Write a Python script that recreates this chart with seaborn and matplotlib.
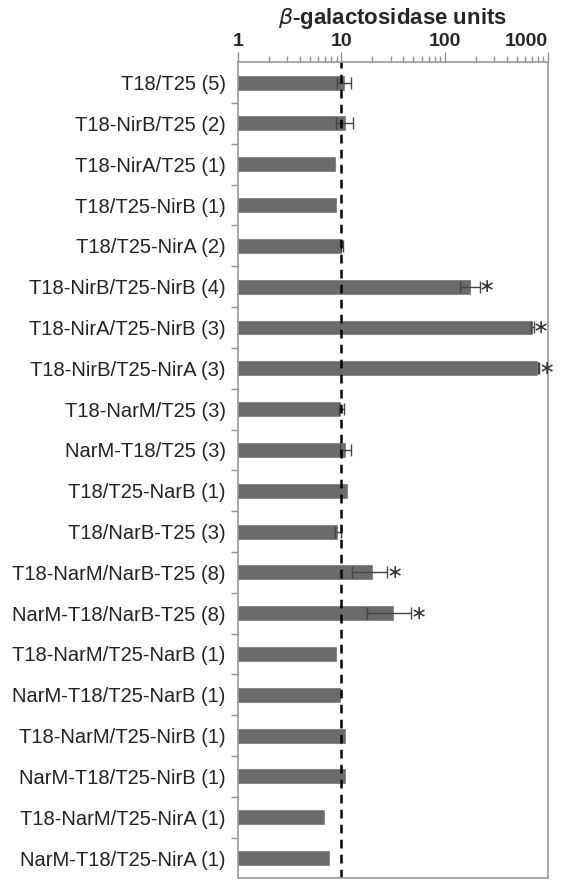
import numpy as np
import pandas as pd
import matplotlib
matplotlib.use("Agg")
import matplotlib.pyplot as plt
import matplotlib.transforms as mtransforms
from matplotlib.ticker import FixedLocator, NullFormatter
import seaborn as sns

constructs = ["T18/T25 (5)", "T18-NirB/T25 (2)", "T18-NirA/T25 (1)", "T18/T25-NirB (1)",
              "T18/T25-NirA (2)", "T18-NirB/T25-NirB (4)", "T18-NirA/T25-NirB (3)",
              "T18-NirB/T25-NirA (3)", "T18-NarM/T25 (3)", "NarM-T18/T25 (3)",
              "T18/T25-NarB (1)", "T18/NarB-T25 (3)", "T18-NarM/NarB-T25 (8)",
              "NarM-T18/NarB-T25 (8)", "T18-NarM/T25-NarB (1)", "NarM-T18/T25-NarB (1)",
              "T18-NarM/T25-NirB (1)", "NarM-T18/T25-NirB (1)", "T18-NarM/T25-NirA (1)",
              "NarM-T18/T25-NirA (1)"]
units = [10.8, 11.0, 8.9, 9.1, 10.2, 180, 710, 810, 10.0, 11.0,
         11.6, 9.3, 20.4, 32.6, 9.0, 9.85, 11.2, 11.0, 7.0, 7.75]
sd = [1.7, 2.1, 0, 0, 0.3, 40, 20, 15, 0.6, 1.3,
      0, 0.7, 7.6, 15, 0, 0, 0, 0, 0, 0]
signif = [False, False, False, False, False, True, True, True, False, False,
          False, False, True, True, False, False, False, False, False, False]

df = pd.DataFrame({"construct": constructs, "units": units, "sd": sd, "sig": signif})

sns.set_style("white")
plt.rcParams["font.family"] = ["Liberation Sans", "DejaVu Sans"]

fig = plt.figure(figsize=(5.66, 8.82), dpi=100)
ax = fig.add_axes([0.4205, 0.004, 0.5475, 0.9255])

sns.barplot(data=df, x="units", y="construct", orient="h", color="#6b6b6b",
            saturation=1, width=0.39, ax=ax)
ax.set_xscale("log")
ax.set_xlim(1, 1000)
ax.set_ylim(len(df) - 0.5, -0.5)

# error bars (only where there is one)
e = df[df["sd"] > 0]
ypos = [constructs.index(c) for c in e["construct"]]
ax.errorbar(e["units"], ypos, xerr=e["sd"], fmt="none", ecolor="#444444",
            elinewidth=1, capsize=4, capthick=1)

# asterisks for significant ones
for i, row in df.iterrows():
    if row["sig"]:
        ax.annotate("∗", (row["units"] + row["sd"], i), xytext=(7, 0),
                    textcoords="offset pixels", ha="center", va="center",
                    fontsize=14, color="#333333", family="DejaVu Sans")

ax.axvline(10, color="black", lw=1.8, ls=(0, (3.5, 2.5)))

# top axis
ax.xaxis.tick_top()
ax.xaxis.set_label_position("top")
ax.set_xticks([1, 10, 100, 1000])
ax.set_xticklabels(["1", "10", "100", "1000"], fontsize=14, fontweight="bold")
last = ax.get_xticklabels()[-1]
last.set_horizontalalignment("right")
last.set_transform(last.get_transform() +
                   mtransforms.ScaledTranslation(0.05, 0, fig.dpi_scale_trans))
ax.tick_params(axis="x", which="major", direction="out", length=7, width=1,
               color="#909090", pad=2)
ax.tick_params(axis="x", which="minor", direction="out", length=4, width=1,
               color="#909090")
ax.set_xlabel(r"$\beta$-galactosidase units", fontsize=16, fontweight="bold", labelpad=6)

ax.set_ylabel("")
ax.tick_params(axis="y", which="major", length=0, pad=9, labelsize=14.5,
               labelcolor="#222222")
ax.yaxis.set_minor_locator(FixedLocator(np.arange(0.5, len(df) - 0.5, 1)))
ax.yaxis.set_minor_formatter(NullFormatter())
ax.tick_params(axis="y", which="minor", direction="out", length=5, width=1,
               color="#909090", left=True)

for s in ax.spines.values():
    s.set_visible(True)
    s.set_color("#9a9a9a")
    s.set_linewidth(1.2)

fig.savefig("out.png", dpi=100)
